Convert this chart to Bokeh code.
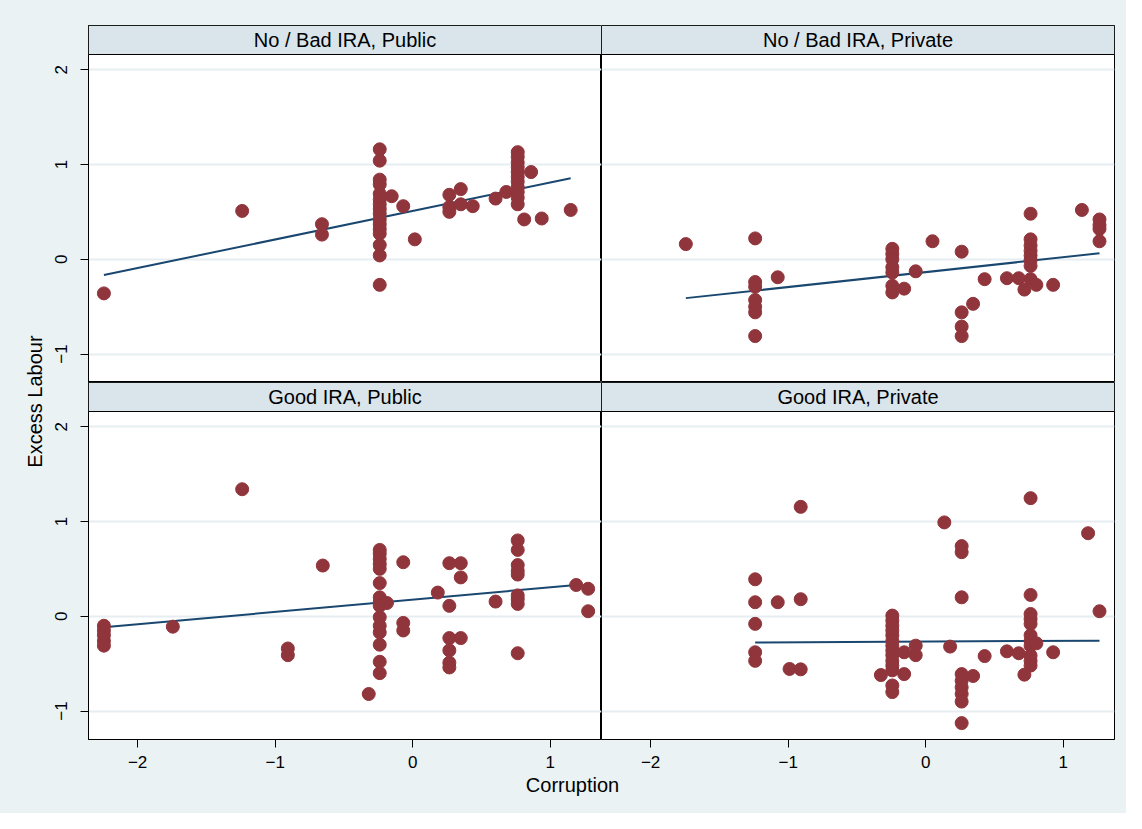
from math import pi
from bokeh.plotting import figure
from bokeh.layouts import row, column
from bokeh.models import (Range1d, LinearAxis, FixedTicker, Grid, BoxAnnotation,
                          Label, CustomJSTickFormatter)
from bokeh.embed import file_html
from bokeh.resources import INLINE

# ---------------- data ----------------
panel_titles = ["No / Bad IRA, Public", "No / Bad IRA, Private",
                "Good IRA, Public", "Good IRA, Private"]

x_ticks = [-2, -1, 0, 1]
y_ticks = [-1, 0, 1, 2]

# No / Bad IRA, Public
pub_bad_x = [-2.245, -1.24, -0.66, -0.66,
             -0.24, -0.24, -0.24, -0.24, -0.24, -0.24, -0.24, -0.24, -0.24, -0.24,
             -0.24, -0.24, -0.24, -0.24, -0.24, -0.24,
             -0.153, -0.069, 0.015, 0.266, 0.266, 0.266, 0.349, 0.349, 0.436, 0.602, 0.68,
             0.763, 0.763, 0.763, 0.763, 0.763, 0.763, 0.763, 0.763, 0.763, 0.763, 0.763,
             0.86, 0.81, 0.9375, 1.148]
pub_bad_y = [-0.36, 0.51, 0.37, 0.26,
             1.16, 1.04, 0.84, 0.79, 0.69, 0.63, 0.58, 0.53, 0.48, 0.42,
             0.37, 0.32, 0.27, 0.15, 0.04, -0.27,
             0.665, 0.56, 0.21, 0.68, 0.55, 0.50, 0.74, 0.58, 0.56, 0.64, 0.71,
             1.13, 1.08, 1.02, 0.97, 0.92, 0.87, 0.82, 0.76, 0.71, 0.65, 0.58,
             0.92, 0.42, 0.43, 0.52]
pub_bad_fit_x = [-2.245, 1.148]
pub_bad_fit_y = [-0.166, 0.855]

# No / Bad IRA, Private
priv_bad_x = [-1.744,
              -1.24, -1.24, -1.24, -1.24, -1.24, -1.24, -1.24,
              -1.076,
              -0.243, -0.243, -0.243, -0.243, -0.243, -0.243, -0.243,
              -0.157, -0.073, 0.049,
              0.261, 0.261, 0.261, 0.261,
              0.344, 0.428, 0.59, 0.676,
              0.762, 0.762, 0.762, 0.762, 0.762, 0.762, 0.762, 0.762,
              0.717, 0.804, 0.926, 1.135,
              1.263, 1.263, 1.263, 1.263]
priv_bad_y = [0.16,
              0.22, -0.24, -0.29, -0.43, -0.50, -0.56, -0.81,
              -0.19,
              0.11, 0.056, 0.0, -0.085, -0.14, -0.28, -0.35,
              -0.31, -0.127, 0.19,
              0.08, -0.56, -0.71, -0.81,
              -0.47, -0.21, -0.20, -0.20,
              0.48, 0.21, 0.145, 0.09, 0.04, -0.01, -0.07, -0.21,
              -0.32, -0.27, -0.27, 0.52,
              0.42, 0.36, 0.32, 0.19]
priv_bad_fit_x = [-1.744, 1.263]
priv_bad_fit_y = [-0.41, 0.063]

# Good IRA, Public
pub_good_x = [-1.24,
              -2.245, -2.245, -2.245, -2.245, -2.245,
              -1.744, -0.908, -0.908, -0.654,
              -0.24, -0.24, -0.24, -0.24, -0.24, -0.24, -0.24, -0.24,
              -0.24, -0.24, -0.24, -0.24, -0.24, -0.24, -0.24,
              -0.1875, -0.32, -0.069, -0.069, -0.069, 0.182,
              0.266, 0.266, 0.266, 0.266, 0.266, 0.266,
              0.349, 0.349, 0.349, 0.602,
              0.763, 0.763, 0.763, 0.763, 0.763, 0.763, 0.763, 0.763, 0.763,
              1.188, 1.275, 1.275]
pub_good_y = [1.34,
              -0.10, -0.15, -0.20, -0.26, -0.31,
              -0.11, -0.34, -0.41, 0.535,
              0.70, 0.66, 0.605, 0.55, 0.50, 0.35, 0.20, 0.15,
              0.11, -0.01, -0.10, -0.17, -0.30, -0.48, -0.60,
              0.14, -0.82, 0.57, -0.07, -0.15, 0.25,
              0.56, 0.11, -0.23, -0.36, -0.49, -0.54,
              0.56, 0.41, -0.23, 0.155,
              0.80, 0.70, 0.54, 0.48, 0.44, 0.22, 0.18, 0.13, -0.39,
              0.33, 0.29, 0.053]
pub_good_fit_x = [-2.245, 1.188]
pub_good_fit_y = [-0.116, 0.33]

# Good IRA, Private
priv_good_x = [-0.909, -0.909, -0.909,
               -1.24, -1.24, -1.24, -1.24, -1.24,
               -1.076, -0.99,
               -0.243, -0.243, -0.243, -0.243, -0.243, -0.243, -0.243,
               -0.243, -0.243, -0.243, -0.243, -0.243, -0.243, -0.243,
               -0.326, -0.157, -0.157, -0.073, -0.073, 0.135, 0.177,
               0.261, 0.261, 0.261, 0.261, 0.261, 0.261, 0.261, 0.261, 0.261,
               0.344, 0.428, 0.59, 0.676,
               0.762, 0.762, 0.762, 0.762, 0.762, 0.762, 0.762, 0.762, 0.762, 0.762, 0.762,
               0.717, 0.804, 0.926, 1.18, 1.263]
priv_good_y = [1.154, 0.18, -0.56,
               0.39, 0.148, -0.08, -0.38, -0.47,
               0.148, -0.556,
               0.007, -0.046, -0.10, -0.15, -0.20, -0.26, -0.31,
               -0.36, -0.41, -0.47, -0.52, -0.57, -0.73, -0.80,
               -0.62, -0.38, -0.61, -0.31, -0.41, 0.99, -0.32,
               0.74, 0.676, 0.20, -0.61, -0.68, -0.75, -0.82, -0.90, -1.127,
               -0.63, -0.42, -0.37, -0.39,
               1.246, 0.225, 0.024, -0.03, -0.08, -0.20, -0.26, -0.31, -0.415, -0.47, -0.52,
               -0.616, -0.285, -0.38, 0.876, 0.053]
priv_good_fit_x = [-1.24, 1.263]
priv_good_fit_y = [-0.278, -0.257]

# ---------------- styling ----------------
FONT = "Liberation Sans"
BG = "#eaf2f3"
STRIP = "#d9e5eb"
GRID = "#e6eef1"
MARKER = "#90353b"
LINE = "#1a476f"

XMIN, XMAX = -2.357, 1.372
YMIN, YMAX = -1.30, 2.16
FRAME_H = 357
STRIP_H = 29
YTOP = YMIN + (YMAX - YMIN) * FRAME_H / (FRAME_H - STRIP_H)

minus_fmt = """
var v = Math.round(tick);
return v < 0 ? "\\u2212" + Math.abs(v) : String(v);
"""


def make_axis(ticks, vertical):
    ax = LinearAxis(ticker=FixedTicker(ticks=ticks),
                    formatter=CustomJSTickFormatter(code=minus_fmt))
    ax.axis_line_color = "black"
    ax.axis_line_width = 1
    ax.major_tick_line_color = "black"
    ax.major_tick_line_width = 1
    ax.major_tick_out = 8
    ax.major_tick_in = 0
    ax.minor_tick_line_color = None
    ax.major_label_text_font = FONT
    ax.major_label_text_font_size = "17px"
    ax.major_label_text_color = "black"
    if vertical:
        ax.major_label_orientation = "vertical"
        ax.major_label_standoff = 13
    else:
        ax.major_label_standoff = 8
    return ax


def strip_grids(p):
    p.center = [r for r in p.center if not isinstance(r, Grid)]


def panel(xs, ys, fx, fy, title, width, height, left, bottom,
          mb_left, mb_right, mb_top, mb_bottom):
    p = figure(width=width, height=height,
               x_range=Range1d(XMIN, XMAX), y_range=Range1d(YMIN, YTOP),
               x_axis_location=None, y_axis_location=None,
               toolbar_location=None, output_backend="svg",
               min_border_left=mb_left, min_border_right=mb_right,
               min_border_top=mb_top, min_border_bottom=mb_bottom,
               styles={"background-color": BG})
    strip_grids(p)
    p.background_fill_color = "white"
    p.border_fill_color = BG
    p.outline_line_color = "black"
    p.outline_line_width = 1

    p.add_layout(Grid(dimension=1, ticker=FixedTicker(ticks=y_ticks),
                      grid_line_color=GRID, grid_line_width=2))
    if left:
        p.add_layout(make_axis(y_ticks, True), "left")
    if bottom:
        p.add_layout(make_axis(x_ticks, False), "below")

    p.line(fx, fy, line_color=LINE, line_width=2)
    p.scatter(xs, ys, size=13, fill_color=MARKER, line_color=MARKER, line_width=1)

    p.add_layout(BoxAnnotation(bottom=YMAX, fill_color=STRIP, fill_alpha=1.0,
                               line_color="black", line_width=1, line_alpha=1.0))
    p.add_layout(Label(x=(XMIN + XMAX) / 2, y=(YMAX + YTOP) / 2, text=title,
                       text_align="center", text_baseline="middle",
                       text_font=FONT, text_font_size="20px", text_color="black"))
    return p


LEFT_W = 46
A = panel(pub_bad_x, pub_bad_y, pub_bad_fit_x, pub_bad_fit_y, panel_titles[0],
          555, 382, True, False, 42, 0, 25, 0)
B = panel(priv_bad_x, priv_bad_y, priv_bad_fit_x, priv_bad_fit_y, panel_titles[1],
          525, 382, False, False, 0, 12, 25, 0)
C = panel(pub_good_x, pub_good_y, pub_good_fit_x, pub_good_fit_y, panel_titles[2],
          555, 393, True, True, 42, 0, 0, 36)
D = panel(priv_good_x, priv_good_y, priv_good_fit_x, priv_good_fit_y, panel_titles[3],
          525, 393, False, True, 0, 12, 0, 36)


def label_fig(w, h, text, x, y, angle):
    f = figure(width=w, height=h, x_range=Range1d(0, w), y_range=Range1d(0, h),
               x_axis_location=None, y_axis_location=None,
               toolbar_location=None, output_backend="svg",
               min_border_left=0, min_border_right=0,
               min_border_top=0, min_border_bottom=0,
               styles={"background-color": BG})
    strip_grids(f)
    f.background_fill_color = BG
    f.border_fill_color = BG
    f.outline_line_color = None
    f.add_layout(Label(x=x, y=y, text=text, angle=angle,
                       text_align="center", text_baseline="middle",
                       text_font=FONT, text_font_size="20px", text_color="black"))
    return f


ylab = label_fig(LEFT_W, 813, "Excess Labour", 34, 412, pi / 2)
xlab = label_fig(1080, 38, "Corruption", 526, 29, 0)

layout = row(ylab,
             column(row(A, B, styles={"background-color": BG}),
                    row(C, D, styles={"background-color": BG}),
                    xlab, styles={"background-color": BG}),
             styles={"background-color": BG})

open("out.html", "w").write(file_html(layout, INLINE))
